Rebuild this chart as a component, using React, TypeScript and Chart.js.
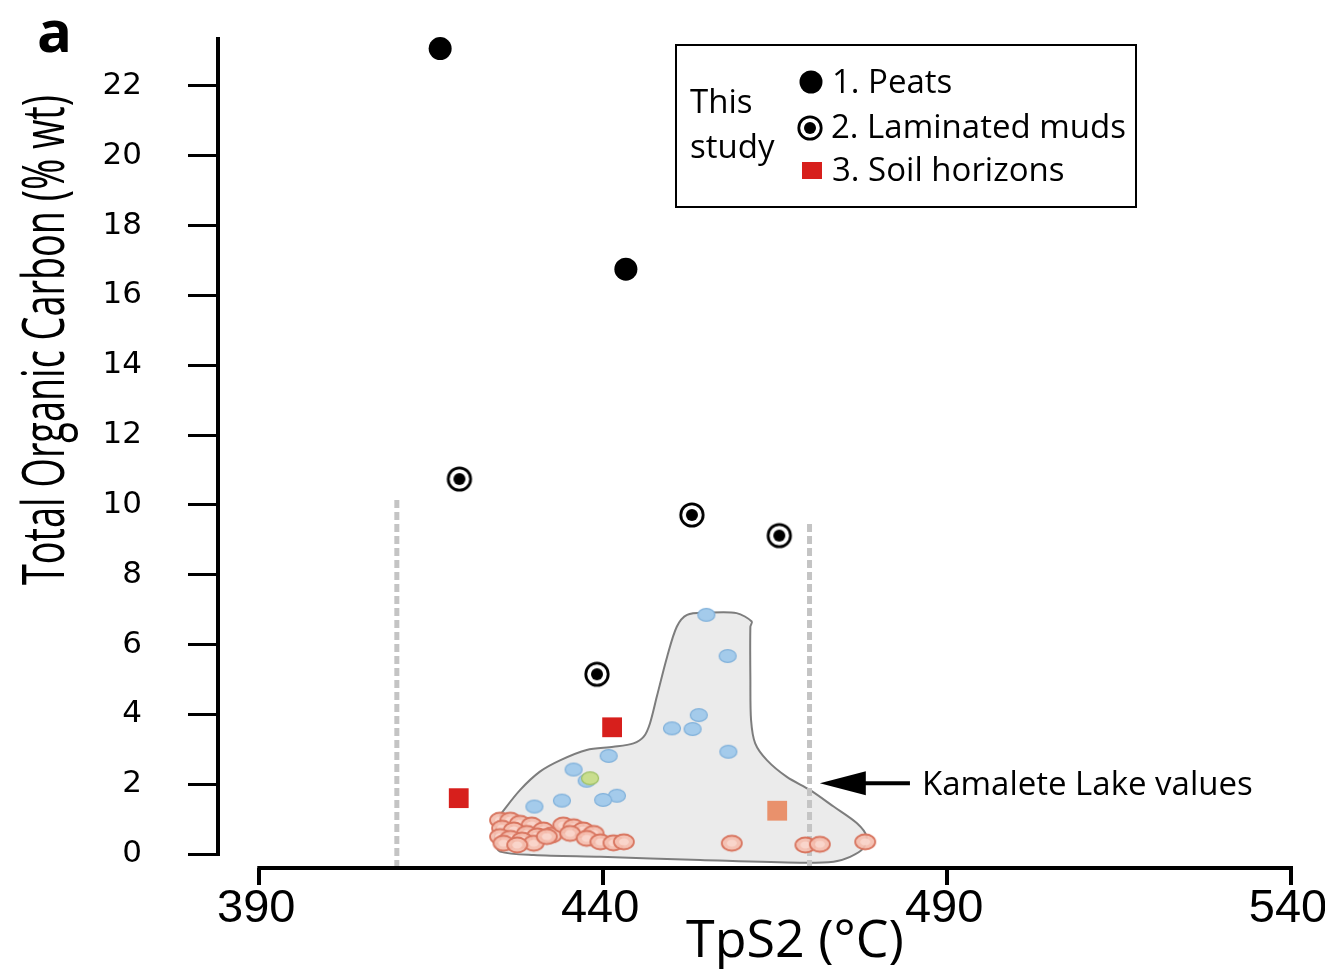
import React, { useEffect, useRef } from "react";
import { Chart, registerables } from "chart.js";

Chart.register(...registerables);

// ---------- text ----------
const panelLabel = "a";
const xTitle = "TpS2 (°C)";
const yTitle = "Total Organic Carbon (% wt)";
const legendGroup = ["This", "study"];
const legendLabels = ["1. Peats", "2. Laminated muds", "3. Soil horizons"];
const annotationText = "Kamalete Lake values";

// ---------- axes ----------
const xTicks = [390, 440, 490, 540];
const yTicks = [0, 2, 4, 6, 8, 10, 12, 14, 16, 18, 20, 22];
const xRange = [384, 540];
const yRange = [-0.4, 23.4];

// ---------- data: [TpS2 (°C), TOC (% wt)] ----------
const peats = [
  [416.3, 23.07],
  [443.3, 16.75],
];
const laminatedMuds = [
  [419.1, 10.74],
  [452.9, 9.71],
  [465.6, 9.12],
  [439.1, 5.15],
];
const soilHorizons = [
  [441.3, 3.63],
  [419.0, 1.6],
];
const kamaleteSoil = [[465.3, 1.24]];
const kamaleteBlue = [
  [455.0, 6.85],
  [458.1, 5.67],
  [453.9, 3.98],
  [450.0, 3.6],
  [453.0, 3.58],
  [458.2, 2.93],
  [440.8, 2.81],
  [435.7, 2.42],
  [437.6, 2.1],
  [442.0, 1.67],
  [440.0, 1.55],
  [434.0, 1.53],
  [430.0, 1.36],
];
const kamaleteGreen = [[438.1, 2.17]];
const kamaletePink = [
  [425.0, 0.97], [426.5, 0.97], [427.9, 0.88], [429.6, 0.83], [431.3, 0.69],
  [432.5, 0.54], [425.3, 0.74], [427.0, 0.69], [428.9, 0.59], [430.4, 0.52],
  [425.0, 0.5], [426.5, 0.45], [428.2, 0.4], [429.9, 0.31], [431.8, 0.5],
  [425.5, 0.31], [427.5, 0.26], [434.2, 0.83], [435.7, 0.78], [437.1, 0.69],
  [438.6, 0.59], [435.2, 0.59], [437.6, 0.45], [439.6, 0.35], [441.5, 0.32],
  [443.0, 0.35], [458.7, 0.31], [469.4, 0.26], [471.5, 0.28], [478.1, 0.35],
];
const kamaleteEnvelope = [
  [425.0, 1.12], [427.9, 1.83], [430.8, 2.36], [433.8, 2.69], [437.6, 2.98],
  [441.5, 3.07], [444.4, 3.17], [445.9, 3.36], [446.8, 3.74], [447.8, 4.51],
  [449.3, 5.65], [450.7, 6.51], [452.2, 6.85], [455.1, 6.91], [459.4, 6.9],
  [461.6, 6.66], [461.4, 6.51], [461.4, 4.99], [461.5, 3.84], [462.1, 3.17],
  [463.8, 2.69], [466.7, 2.21], [470.1, 1.83], [473.5, 1.36], [476.9, 0.88],
  [478.3, 0.5], [477.8, 0.16], [475.9, -0.08], [473.5, -0.22], [468.6, -0.25],
  [454.1, -0.17], [439.6, -0.08], [429.9, -0.03], [425.0, 0.07], [424.3, 0.31],
  [424.5, 0.78], [425.0, 1.12],
];
const cutoffLeft = [
  [410, -0.4],
  [410, 10.2],
];
const cutoffRight = [
  [470, -0.4],
  [470, 9.5],
];
const arrowTail = [484.6, 2.03];
const arrowTip = [471.5, 2.03];

const toXY = (arr: number[][]) => arr.map(([x, y]) => ({ x, y }));

function makeImg(w: number, h: number, draw: (c: CanvasRenderingContext2D) => void) {
  const cv = document.createElement("canvas");
  cv.width = w;
  cv.height = h;
  const c = cv.getContext("2d")!;
  draw(c);
  return cv;
}

function drawBullseye(c: CanvasRenderingContext2D, cx: number, cy: number) {
  c.beginPath();
  c.arc(cx, cy, 11.2, 0, Math.PI * 2);
  c.fillStyle = "#fff";
  c.fill();
  c.lineWidth = 2.8;
  c.strokeStyle = "#000";
  c.stroke();
  c.beginPath();
  c.arc(cx, cy, 6, 0, Math.PI * 2);
  c.fillStyle = "#000";
  c.fill();
}

export default function App() {
  const ref = useRef<HTMLCanvasElement | null>(null);

  useEffect(() => {
    const canvas = ref.current;
    if (!canvas) return;

    const bullseye = makeImg(30, 30, (c) => drawBullseye(c, 15, 15));
    const blueDot = makeImg(22, 18, (c) => {
      c.beginPath();
      c.ellipse(11, 9, 8.5, 6.3, 0, 0, Math.PI * 2);
      c.fillStyle = "#a4cbeb";
      c.fill();
      c.lineWidth = 1.2;
      c.strokeStyle = "#7fb0da";
      c.stroke();
    });
    const greenDot = makeImg(22, 18, (c) => {
      c.beginPath();
      c.ellipse(11, 9, 8.5, 6.3, 0, 0, Math.PI * 2);
      c.fillStyle = "#c9de8e";
      c.fill();
      c.lineWidth = 1.2;
      c.strokeStyle = "#9dbf62";
      c.stroke();
    });
    const pinkDot = makeImg(26, 20, (c) => {
      c.beginPath();
      c.ellipse(13, 10, 10, 7.5, 0, 0, Math.PI * 2);
      c.fillStyle = "rgba(244,190,175,0.92)";
      c.fill();
      c.lineWidth = 1.8;
      c.strokeStyle = "#d8755f";
      c.stroke();
      c.beginPath();
      c.ellipse(13, 10, 5, 3.5, 0, 0, Math.PI * 2);
      c.fillStyle = "rgba(250,215,205,0.9)";
      c.fill();
    });

    const decor = {
      id: "decor",
      afterDatasetsDraw(chart: any) {
        const { ctx, chartArea } = chart;
        const x = chart.scales.x;
        const y = chart.scales.y;
        ctx.save();
        // axis lines
        ctx.strokeStyle = "#000";
        ctx.lineWidth = 4;
        ctx.beginPath();
        ctx.moveTo(chartArea.left, chartArea.top);
        ctx.lineTo(chartArea.left, y.getPixelForValue(yTicks[0]) + 2);
        ctx.stroke();
        ctx.beginPath();
        ctx.moveTo(x.getPixelForValue(xTicks[0]) - 2, chartArea.bottom);
        ctx.lineTo(x.getPixelForValue(xTicks[xTicks.length - 1]) + 2, chartArea.bottom);
        ctx.stroke();

        // arrow annotation
        const tx = x.getPixelForValue(arrowTail[0]);
        const hx = x.getPixelForValue(arrowTip[0]);
        const ay = y.getPixelForValue(arrowTip[1]);
        ctx.lineWidth = 4;
        ctx.beginPath();
        ctx.moveTo(tx, ay);
        ctx.lineTo(hx + 40, ay);
        ctx.stroke();
        ctx.beginPath();
        ctx.moveTo(hx, ay);
        ctx.lineTo(hx + 46, ay - 12);
        ctx.lineTo(hx + 46, ay + 12);
        ctx.closePath();
        ctx.fillStyle = "#000";
        ctx.fill();
        ctx.font = '33px "Open Sans"';
        ctx.textAlign = "left";
        ctx.textBaseline = "alphabetic";
        ctx.fillText(annotationText, tx + 12, ay + 12);

        // panel label
        ctx.font = 'bold 58px "Open Sans"';
        ctx.fillText(panelLabel, 37, 52);

        // x title
        ctx.font = '52px "Open Sans"';
        ctx.textAlign = "center";
        ctx.fillText(xTitle, 795, 957);

        // y title (condensed)
        ctx.save();
        ctx.translate(64, 340);
        ctx.rotate(-Math.PI / 2);
        ctx.font = '58px "Open Sans"';
        const w = ctx.measureText(yTitle).width;
        ctx.scale(490 / w, 1);
        ctx.textAlign = "center";
        ctx.fillText(yTitle, 0, 0);
        ctx.restore();

        // legend box
        ctx.lineWidth = 2;
        ctx.strokeStyle = "#000";
        ctx.strokeRect(676, 45, 460, 162);
        ctx.font = '33px "Open Sans"';
        ctx.textAlign = "left";
        ctx.fillStyle = "#000";
        ctx.fillText(legendGroup[0], 690, 113);
        ctx.fillText(legendGroup[1], 690, 158);
        ctx.beginPath();
        ctx.arc(811, 82, 11.5, 0, Math.PI * 2);
        ctx.fill();
        drawBullseye(ctx, 810, 128);
        ctx.fillStyle = "#d71f1c";
        ctx.fillRect(802, 162, 20, 17);
        ctx.fillStyle = "#000";
        ctx.fillText(legendLabels[0], 832, 93);
        ctx.fillText(legendLabels[1], 831, 138);
        ctx.fillText(legendLabels[2], 832, 181);
        ctx.restore();
      },
    };

    const chart = new Chart(canvas, {
      type: "scatter",
      data: {
        datasets: [
          {
            label: legendLabels[0],
            data: toXY(peats),
            pointStyle: "circle",
            pointRadius: 11.5,
            backgroundColor: "#000",
            borderWidth: 0,
            order: 0,
          },
          {
            label: legendLabels[1],
            data: toXY(laminatedMuds),
            pointStyle: bullseye as any,
            order: 1,
          },
          {
            label: legendLabels[2],
            data: toXY(soilHorizons),
            pointStyle: "rect",
            pointRadius: 14,
            backgroundColor: "#d71f1c",
            borderWidth: 0,
            order: 2,
          },
          {
            label: "Kamalete soil",
            data: toXY(kamaleteSoil),
            pointStyle: "rect",
            pointRadius: 14,
            backgroundColor: "#e9916c",
            borderWidth: 0,
            order: 3,
          },
          {
            label: "Kamalete green",
            data: toXY(kamaleteGreen),
            pointStyle: greenDot as any,
            order: 4,
          },
          {
            label: "Kamalete blue",
            data: toXY(kamaleteBlue),
            pointStyle: blueDot as any,
            order: 5,
          },
          {
            label: "Kamalete pink",
            data: toXY(kamaletePink),
            pointStyle: pinkDot as any,
            order: 6,
          },
          {
            label: "cutoff right",
            data: toXY(cutoffRight),
            showLine: true,
            pointRadius: 0,
            borderColor: "#c4c4c4",
            borderWidth: 5,
            borderDash: [8, 4],
            order: 7,
          },
          {
            label: "cutoff left",
            data: toXY(cutoffLeft),
            showLine: true,
            pointRadius: 0,
            borderColor: "#c4c4c4",
            borderWidth: 5,
            borderDash: [8, 4],
            order: 8,
          },
          {
            label: "Kamalete envelope",
            data: toXY(kamaleteEnvelope),
            showLine: true,
            pointRadius: 0,
            borderColor: "#7d7d7d",
            borderWidth: 2,
            backgroundColor: "#ebebeb",
            fill: "shape",
            tension: 0.3,
            order: 9,
          },
        ] as any,
      },
      options: {
        responsive: false,
        animation: false,
        events: [],
        layout: { padding: { left: 0, top: 37, right: 34, bottom: 0 } },
        plugins: {
          legend: { display: false },
          tooltip: { enabled: false },
          title: { display: false },
        },
        scales: {
          x: {
            type: "linear",
            min: xRange[0],
            max: xRange[1],
            afterBuildTicks: (s: any) => {
              s.ticks = xTicks.map((v) => ({ value: v }));
            },
            afterFit: (s: any) => {
              s.height = 971 - 868;
              s.paddingLeft = 0;
              s.paddingRight = 0;
            },
            grid: {
              display: true,
              drawOnChartArea: false,
              drawTicks: true,
              tickLength: 17,
              lineWidth: 4,
              color: "#000",
            },
            border: { display: false },
            ticks: {
              padding: -4,
              labelOffset: -3,
              color: "#000",
              maxRotation: 0,
              autoSkip: false,
              font: { family: "'Liberation Sans', Arial, sans-serif", size: 47 },
            },
          },
          y: {
            type: "linear",
            min: yRange[0],
            max: yRange[1],
            afterBuildTicks: (s: any) => {
              s.ticks = yTicks.map((v) => ({ value: v }));
            },
            afterFit: (s: any) => {
              s.width = 218;
              s.paddingTop = 0;
              s.paddingBottom = 0;
            },
            grid: {
              display: true,
              drawOnChartArea: false,
              drawTicks: true,
              tickLength: 30,
              lineWidth: 3,
              color: "#000",
            },
            border: { display: false },
            ticks: {
              padding: 46,
              color: "#000",
              autoSkip: false,
              font: { family: "'DejaVu Sans', sans-serif", size: 31 },
            },
          },
        },
      } as any,
      plugins: [decor],
    });

    return () => chart.destroy();
  }, []);

  return (
    <div style={{ position: "absolute", left: 0, top: 0, width: 1325, height: 971, background: "#fff" }}>
      <canvas ref={ref} width={1325} height={971} style={{ display: "block" }} />
    </div>
  );
}
